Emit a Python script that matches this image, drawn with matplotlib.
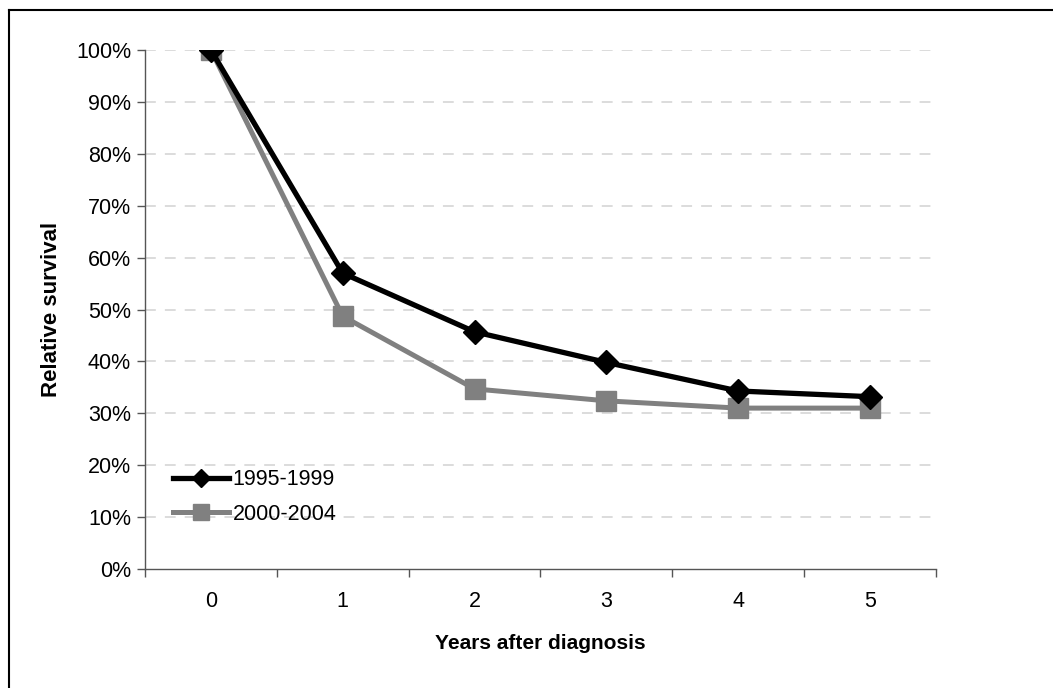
import matplotlib
matplotlib.use("Agg")
import matplotlib.pyplot as plt
from matplotlib.lines import Line2D
from matplotlib.ticker import PercentFormatter

# data
years = [0, 1, 2, 3, 4, 5]
surv_95_99 = [1.00, 0.570, 0.457, 0.398, 0.343, 0.332]
surv_00_04 = [1.00, 0.487, 0.347, 0.324, 0.310, 0.310]
series_labels = ["1995-1999", "2000-2004"]

plt.rcParams['font.family'] = ['Liberation Sans', 'DejaVu Sans']

W, H = 1053, 688
fig = plt.figure(figsize=(W / 100, H / 100), dpi=100)
ax = fig.add_axes([145 / W, 1 - 569 / H, (936 - 145) / W, (569 - 50) / H])

ax.plot(years, surv_95_99, color="black", lw=3.8, marker="D", ms=12,
        label=series_labels[0], zorder=4)
ax.plot(years, surv_00_04, color="#808080", lw=3.6, marker="s", ms=15,
        label=series_labels[1], zorder=3)

ax.set_xlim(-0.5, 5.5)
ax.set_ylim(0, 1)
ax.set_yticks([i / 10 for i in range(11)])
ax.yaxis.set_major_formatter(PercentFormatter(1.0, decimals=0))
ax.set_xticks(years)
ax.set_xticks([x - 0.5 for x in years] + [5.5], minor=True)
ax.tick_params(axis="x", which="major", length=0, pad=16, labelsize=15.5)
ax.tick_params(axis="x", which="minor", length=6, color="#555555", width=1)
ax.tick_params(axis="y", length=6, color="#555555", width=1, labelsize=15.5, pad=4)

for y in ax.get_yticks()[1:]:
    ax.axhline(y, color="#d9d9d9", lw=1.3, ls=(0, (6, 5)), zorder=1)

for s in ["top", "right"]:
    ax.spines[s].set_visible(False)
for s in ["left", "bottom"]:
    ax.spines[s].set_color("#555555")
    ax.spines[s].set_linewidth(1)

ax.set_xlabel("Years after diagnosis", fontsize=15, fontweight="bold", labelpad=16)
ax.set_ylabel("Relative survival", fontsize=16, fontweight="bold", labelpad=10)

leg = ax.legend(loc="lower left", bbox_to_anchor=(0.024, 0.069), frameon=False,
                fontsize=15.5, handlelength=2.6, handletextpad=0.2,
                labelspacing=0.62, borderaxespad=0, markerscale=0.8)

# outer chart border (top and left edges visible)
fig.add_artist(Line2D([9 / W, 1.01], [1 - 10 / H, 1 - 10 / H], color="black",
                      lw=1.5, transform=fig.transFigure))
fig.add_artist(Line2D([9 / W, 9 / W], [1 - 10 / H, -0.01], color="black",
                      lw=1.5, transform=fig.transFigure))

fig.savefig("out.png", dpi=100)
